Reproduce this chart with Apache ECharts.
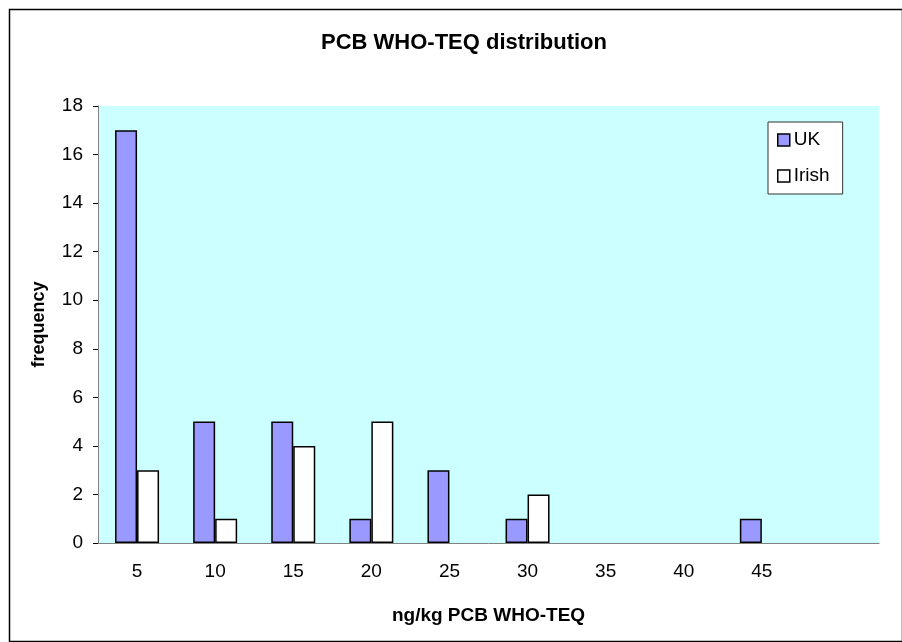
<!DOCTYPE html>
<html>
<head>
<meta charset="utf-8">
<script src="https://cdn.jsdelivr.net/npm/echarts@6/dist/echarts.min.js"></script>
<style>html,body{margin:0;padding:0;background:#fff}#c{width:902px;height:642px}</style>
</head>
<body>
<div id="c"></div>
<script>
var categories = ['5','10','15','20','25','30','35','40','45',''];
var ukValues = [17,5,5,1,3,1,0,0,1,0];
var irishValues = [3,1,4,5,0,2,0,0,0,0];
var seriesNames = ['UK','Irish'];

function clean(arr){ return arr.map(function(v){ return v === 0 ? '-' : v; }); }

var chart = echarts.init(document.getElementById('c'));
var font = '"Liberation Sans", Arial, sans-serif';
chart.setOption({
  animation: false,
  backgroundColor: '#ffffff',
  textStyle: { fontFamily: font },
  graphic: [{
    type: 'rect', left: 7, top: 7, z: -1,
    shape: { width: 893, height: 632 },
    style: { fill: 'none', stroke: '#000', lineWidth: 1.5 }
  }],
  title: {
    text: 'PCB WHO-TEQ distribution', left: 459, textAlign: 'center', top: 27,
    textStyle: { fontFamily: font, fontSize: 22, fontWeight: 'bold', color: '#000' }
  },
  legend: {
    orient: 'vertical', left: 768, top: 122,
    padding: [8, 13, 8, 9],
    itemGap: 16,
    itemWidth: 12, itemHeight: 12,
    icon: 'rect',
    backgroundColor: '#fff', borderColor: '#333', borderWidth: 1,
    itemStyle: { borderColor: '#000', borderWidth: 1.5 },
    textStyle: { fontFamily: font, fontSize: 19, lineHeight: 20, color: '#000', padding: [0,0,0,-1] },
    data: seriesNames
  },
  grid: { left: 98, right: 23, top: 106, bottom: 99, show: true, backgroundColor: '#CCFFFF', borderWidth: 0 },
  xAxis: {
    type: 'category', data: categories,
    name: 'ng/kg PCB WHO-TEQ', nameLocation: 'middle', nameGap: 63,
    nameTextStyle: { fontFamily: font, fontSize: 19, fontWeight: 'bold', color: '#000' },
    axisLine: { lineStyle: { color: '#808080', width: 1 } },
    axisTick: { length: 6, lineStyle: { color: '#000' } },
    axisLabel: { fontFamily: font, fontSize: 19, color: '#000', margin: 19 },
    splitLine: { show: false }
  },
  yAxis: {
    type: 'value', min: 0, max: 18, interval: 2,
    name: 'frequency', nameLocation: 'middle', nameGap: 50,
    nameTextStyle: { fontFamily: font, fontSize: 18, fontWeight: 'bold', color: '#000' },
    axisLine: { show: true, lineStyle: { color: '#808080', width: 1 } },
    axisTick: { show: true, length: 5, lineStyle: { color: '#000' } },
    axisLabel: { fontFamily: font, fontSize: 19, color: '#000', margin: 15 },
    splitLine: { show: false }
  },
  series: [{
    name: seriesNames[0], type: 'bar', data: clean(ukValues),
    barWidth: 22, barGap: '0%',
    itemStyle: { color: '#9999FF', borderColor: '#000', borderWidth: 1.5 }
  }, {
    name: seriesNames[1], type: 'bar', data: clean(irishValues),
    barWidth: 22, barGap: '0%',
    itemStyle: { color: '#FFFFFF', borderColor: '#000', borderWidth: 1.5 }
  }]
});
</script>
</body>
</html>
